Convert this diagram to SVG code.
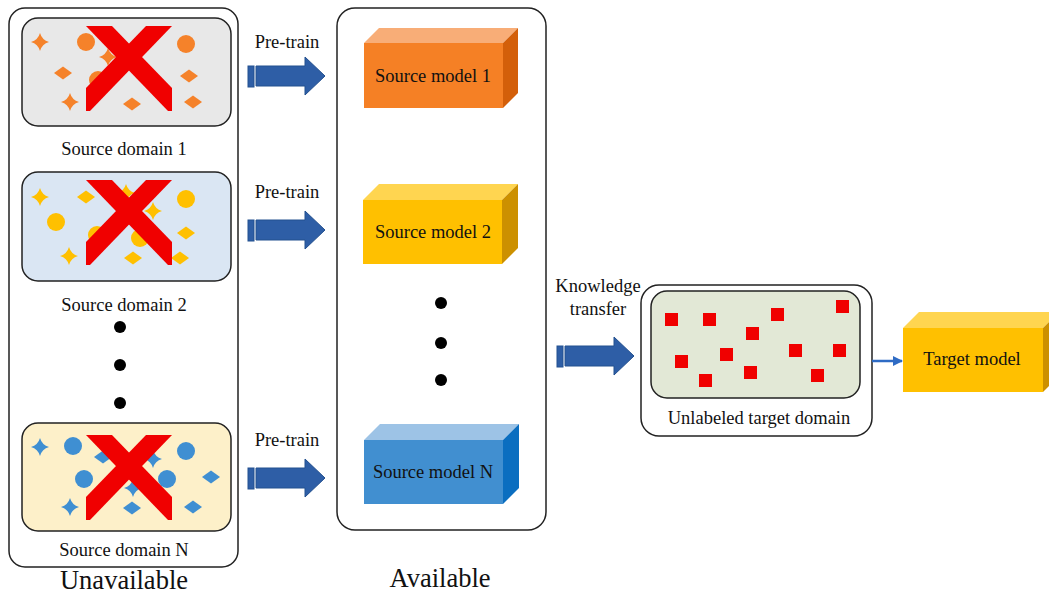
<svg xmlns="http://www.w3.org/2000/svg" xmlns:xlink="http://www.w3.org/1999/xlink" width="1049" height="593" viewBox="0 0 1049 593">
<style>
text{font-family:"Liberation Serif","Times New Roman",serif;font-size:18.5px;fill:#111;text-anchor:middle}
.big{font-size:26.5px}
.frame{fill:#fff;stroke:#222;stroke-width:1.5}
.inner{stroke:#222;stroke-width:1.5}
.xmark{fill:#f00000}
.sq{fill:#f00000}
.parrow{fill:#2e5ea6;stroke:#23508f;stroke-width:1}
.o{fill:#f5822a}
.y{fill:#ffc000}
.b{fill:#3f8fd2}
</style>
<defs>
<path id="star" d="M0,-9 Q2,-2 9,0 Q2,2 0,9 Q-2,2 -9,0 Q-2,-2 0,-9Z"/>
<path id="dia" d="M-9,0 L0,-6.5 L9,0 L0,6.5Z"/>
<circle id="cir" r="9"/>
<g id="xm"><polygon points="86,0 112,0 172,62 172,85 168,85"/><polygon points="172,0 146,0 86,62 86,85 90,85"/></g>
<g id="parr"><rect x="248" y="-10" width="6" height="21"/><polygon points="256,-10 305,-10 305,-19 325,0 305,19 305,10 256,10 256,-10"/></g>
<marker id="ah" viewBox="0 0 10 10" refX="9" refY="5" markerWidth="10" markerHeight="10" markerUnits="userSpaceOnUse" orient="auto"><path d="M0,0 L10,5 L0,10Z" fill="#2e6bc4"/></marker>
</defs>

<g id="unavailable">
<rect class="frame" x="9" y="8" width="229" height="559" rx="16"/>
<text class="big" x="124" y="589">Unavailable</text>
<g fill="#000"><circle cx="120" cy="327" r="6"/><circle cx="120" cy="365" r="6"/><circle cx="120" cy="403" r="6"/></g>
</g>

<g id="source-domain-1">
<rect class="inner" x="22" y="18" width="209" height="108" rx="16" fill="#e8e8e8"/>
<g class="o">
<use href="#star" x="40" y="42"/><use href="#cir" x="86" y="42"/><use href="#star" x="108" y="57"/><use href="#cir" x="186" y="44"/>
<use href="#dia" x="63" y="73"/><use href="#cir" x="98" y="80"/><use href="#cir" x="143" y="72"/><use href="#dia" x="189" y="76"/>
<use href="#star" x="70" y="102"/><use href="#dia" x="132" y="104"/><use href="#dia" x="193" y="102"/>
</g>
<use href="#xm" class="xmark" y="26"/>
<text x="124" y="155">Source domain 1</text>
</g>

<g id="source-domain-2">
<rect class="inner" x="22" y="172" width="209" height="109" rx="16" fill="#dae6f3"/>
<g class="y">
<use href="#star" x="40" y="197"/><use href="#dia" x="86" y="197"/><use href="#star" x="126" y="193"/><use href="#cir" x="186" y="199"/>
<use href="#cir" x="56" y="222"/><use href="#star" x="153" y="211"/><use href="#cir" x="97" y="235"/><use href="#cir" x="140" y="238"/><use href="#dia" x="186" y="233"/>
<use href="#star" x="69" y="256"/><use href="#dia" x="133" y="258"/><use href="#dia" x="180" y="258"/>
</g>
<use href="#xm" class="xmark" y="180"/>
<text x="124" y="311">Source domain 2</text>
</g>

<g id="source-domain-n">
<rect class="inner" x="22" y="423" width="209" height="108" rx="16" fill="#fdf0c9"/>
<g class="b">
<use href="#star" x="40" y="447"/><use href="#cir" x="73" y="446"/><use href="#dia" x="103" y="457"/><use href="#star" x="153" y="459"/><use href="#cir" x="186" y="451"/>
<use href="#cir" x="84" y="479"/><use href="#cir" x="167" y="479"/><use href="#dia" x="211" y="477"/><use href="#star" x="133" y="488"/>
<use href="#star" x="70" y="507"/><use href="#dia" x="132" y="508"/><use href="#dia" x="193" y="507"/>
</g>
<use href="#xm" class="xmark" y="435"/>
<text x="124" y="556">Source domain N</text>
</g>

<g id="available">
<rect class="frame" x="337" y="8" width="209" height="522" rx="18"/>
<text class="big" x="440" y="587">Available</text>
<g fill="#000"><circle cx="441" cy="303" r="6"/><circle cx="441" cy="343" r="6"/><circle cx="441" cy="380" r="6"/></g>
</g>

<g id="source-model-1">
<polygon points="364,43 379,28 518,28 503,43" fill="#f8ad77"/>
<polygon points="503,43 518,28 518,93 503,108" fill="#d35f0a"/>
<rect x="364" y="43" width="139" height="65" fill="#f58025"/>
<text x="433" y="82">Source model 1</text>
</g>

<g id="source-model-2">
<polygon points="363,200 379,184 518,184 502,200" fill="#ffd550"/>
<polygon points="502,200 518,184 518,248 502,264" fill="#cc9000"/>
<rect x="363" y="200" width="139" height="64" fill="#ffc000"/>
<text x="433" y="238">Source model 2</text>
</g>

<g id="source-model-n">
<polygon points="364,440 380,424 519,424 503,440" fill="#9dc3e6"/>
<polygon points="503,440 519,424 519,488 503,504" fill="#0b6ec0"/>
<rect x="364" y="440" width="139" height="64" fill="#418fd0"/>
<text x="433" y="478">Source model N</text>
</g>

<g id="target-domain">
<rect class="frame" x="641" y="285" width="231" height="151" rx="18"/>
<rect class="inner" x="651" y="291" width="209" height="107" rx="16" fill="#e2e8d6"/>
<g class="sq">
<rect x="665" y="313" width="13" height="13"/><rect x="703" y="313" width="13" height="13"/><rect x="771" y="308" width="13" height="13"/><rect x="836" y="300" width="13" height="13"/>
<rect x="746" y="327" width="13" height="13"/><rect x="720" y="348" width="13" height="13"/><rect x="675" y="355" width="13" height="13"/><rect x="789" y="344" width="13" height="13"/>
<rect x="833" y="344" width="13" height="13"/><rect x="699" y="374" width="13" height="13"/><rect x="744" y="366" width="13" height="13"/><rect x="811" y="369" width="13" height="13"/>
</g>
<text x="759" y="424">Unlabeled target domain</text>
</g>

<g id="target-model">
<polygon points="903,328 919,312 1059,312 1043,328" fill="#ffd550"/>
<polygon points="1043,328 1059,312 1059,376 1043,392" fill="#cc9000"/>
<rect x="903" y="328" width="140" height="64" fill="#ffc000"/>
<text x="972" y="365">Target model</text>
</g>

<g id="connectors">
<use href="#parr" class="parrow" y="76"/>
<text x="287" y="48">Pre-train</text>
<use href="#parr" class="parrow" y="230"/>
<text x="287" y="198">Pre-train</text>
<use href="#parr" class="parrow" y="478"/>
<text x="287" y="446">Pre-train</text>
<use href="#parr" class="parrow" transform="translate(309,356)"/>
<text x="598" y="292">Knowledge</text>
<text x="598" y="315">transfer</text>
<line x1="872" y1="361" x2="902" y2="361" stroke="#2e6bc4" stroke-width="2.5" marker-end="url(#ah)"/>
</g>
</svg>
